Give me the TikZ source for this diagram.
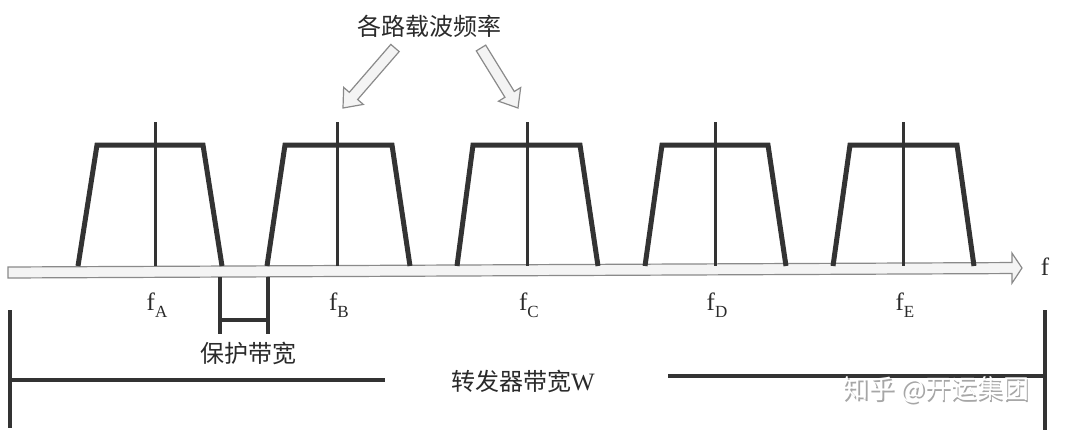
\documentclass[tikz,border=0pt]{standalone}
\usepackage{fontspec}
\setmainfont{Liberation Serif}
\newfontfamily\cjk{Noto Sans CJK SC}
\usetikzlibrary{calc}
\definecolor{lineC}{HTML}{333333}
\definecolor{textC}{HTML}{2A2A2A}
\definecolor{hollowD}{HTML}{8A8A8A}
\definecolor{hollowF}{HTML}{F4F4F4}
\tikzset{
  trap/.style={line width=5pt, draw=lineC, line join=miter},
  cline/.style={line width=3pt, draw=lineC},
  brk/.style={line width=3.5pt, draw=lineC},
  hollow/.style={draw=hollowD, fill=hollowF, line width=1.2pt, line join=miter},
  flbl/.style={font=\fontsize{25}{25}\selectfont, text=textC, inner sep=0pt},
  cjklbl/.style={font=\cjk\fontsize{24}{24}\selectfont, text=textC, inner sep=0pt},
  wmark/.style={font=\cjk\fontsize{26}{26}\selectfont, inner sep=0pt}
}
\newcommand{\flabel}[1]{f\raisebox{-7pt}{\fontsize{17}{17}\selectfont #1}}
\begin{document}
\begin{tikzpicture}[x=1pt,y=-1pt]
\useasboundingbox (0,0) rectangle (1080,436);
\fill[white] (0,0) rectangle (1080,436);

% frequency axis (hollow arrow)
\coordinate (axA) at (8,272.5);
\coordinate (axB) at (1022,268);
\coordinate (axH) at ($(axB)!10pt!(axA)$);
\draw[hollow]
  ($(axA)!5.5pt!90:(axB)$) -- ($(axH)!5.5pt!-90:(axA)$) -- ($(axH)!15pt!-90:(axA)$)
  -- (axB) -- ($(axH)!15pt!90:(axA)$) -- ($(axH)!5.5pt!90:(axA)$)
  -- ($(axA)!5.5pt!-90:(axB)$) -- cycle;
\node[flbl] (flab) at (1045,267) {f};

% carriers
\foreach \n/\bl/\tl/\tr/\br/\c/\lab in {
  A/78/97/203/222/155/A,
  B/267/285/392/410/337/B,
  C/457/473/580/598/527/C,
  D/645/662/768/786/715/D,
  E/833/850/957/974/903/E}{
  \coordinate (b\n1) at (\bl,266);
  \coordinate (t\n1) at (\tl,145);
  \coordinate (t\n2) at (\tr,145);
  \coordinate (b\n2) at (\br,266);
  \coordinate (c\n1) at (\c,122);
  \coordinate (c\n2) at (\c,266);
  \draw[trap] (b\n1) -- (t\n1) -- (t\n2) -- (b\n2);
  \draw[cline] (c\n1) -- (c\n2);
  \node[flbl] (lab\n) at (\c+2,305) {\flabel{\lab}};
}

% guard band
\coordinate (g1) at (220,277);
\coordinate (g2) at (268,277);
\coordinate (g1b) at (220,334);
\coordinate (g2b) at (268,334);
\draw[brk] (g1) -- (g1b);
\draw[brk] (g2) -- (g2b);
\draw[brk] (220,320) -- (268,320);
\node[cjklbl] (guard) at (248,353) {保护带宽};

% top label and hollow arrows
\node[cjklbl] (top) at (429,26) {各路载波频率};
\foreach \nm/\ax/\ay/\bx/\by in {L/395/48/343/108, R/481/48/518/108}{
  \coordinate (\nm A) at (\ax,\ay);
  \coordinate (\nm B) at (\bx,\by);
  \coordinate (\nm H) at ($(\nm B)!16pt!(\nm A)$);
  \draw[hollow]
    ($(\nm A)!5.5pt!90:(\nm B)$) -- ($(\nm H)!5.5pt!-90:(\nm A)$) -- ($(\nm H)!13pt!-90:(\nm A)$)
    -- (\nm B) -- ($(\nm H)!13pt!90:(\nm A)$) -- ($(\nm H)!5.5pt!90:(\nm A)$)
    -- ($(\nm A)!5.5pt!-90:(\nm B)$) -- cycle;
}

% transponder bandwidth
\coordinate (wl1) at (10,310);
\coordinate (wl2) at (10,428);
\coordinate (wr1) at (1045,310);
\coordinate (wr2) at (1045,430);
\draw[brk] (wl1) -- (wl2);
\draw[brk] (wr1) -- (wr2);
\coordinate (hl1) at (10,380);
\coordinate (hl2) at (385,380);
\coordinate (hr1) at (668,376);
\coordinate (hr2) at (1045,376);
\draw[brk] (hl1) -- (hl2);
\draw[brk] (hr1) -- (hr2);
\node[cjklbl] (wlab) at (523,381) {转发器带宽\fontsize{25}{25}\selectfont\rmfamily W};

% watermark
\node[wmark, text=gray!70] (wm0) at (937.5,391.5) {知乎 @开运集团};
\node[wmark, text=white] (wm) at (936,390) {知乎 @开运集团};
\end{tikzpicture}
\end{document}
